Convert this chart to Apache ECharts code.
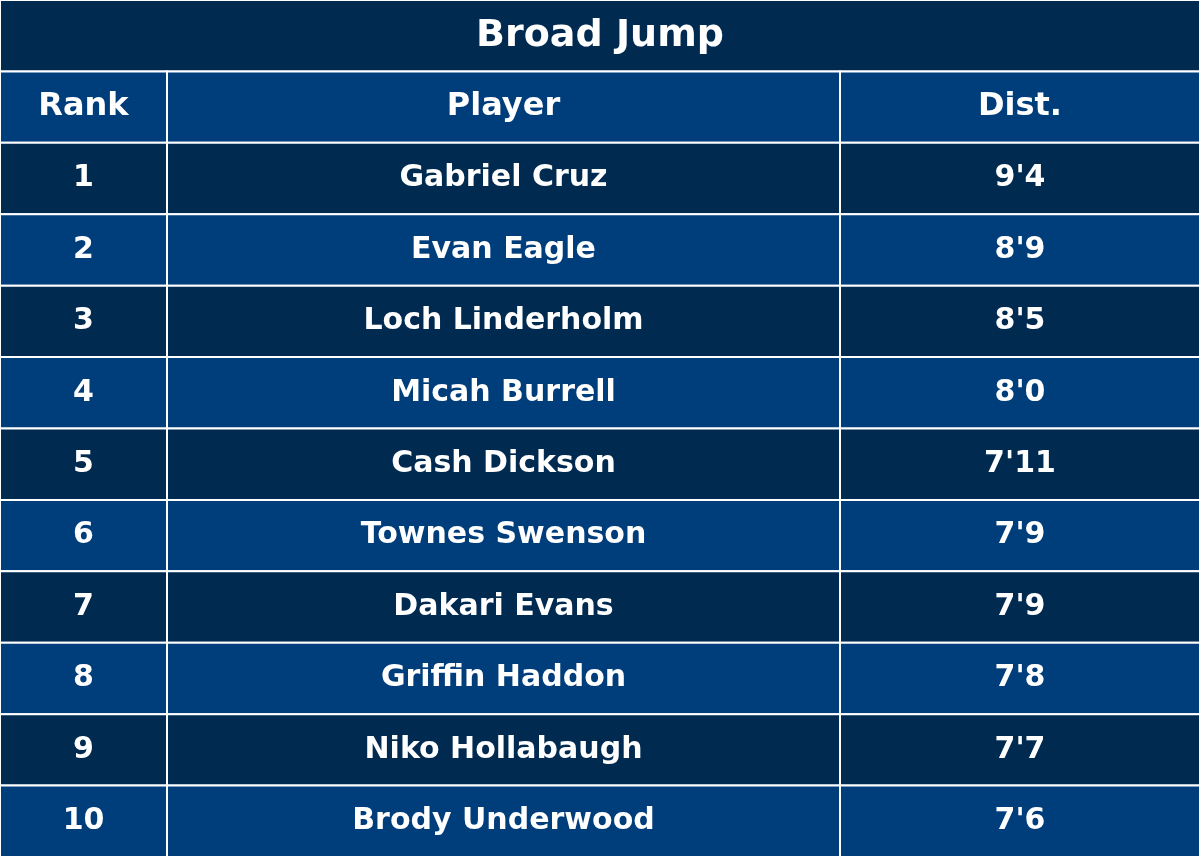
<!DOCTYPE html>
<html>
<head>
<meta charset="utf-8">
<script src="https://cdn.jsdelivr.net/npm/echarts@6/dist/echarts.min.js"></script>
<style>
  html, body { margin: 0; padding: 0; background: #fff; }
  #chart { width: 1200px; height: 857px; }
</style>
</head>
<body>
<div id="chart"></div>
<script>
var title = 'Broad Jump';
var headers = ['Rank', 'Player', 'Dist.'];
var ranks = ['1', '2', '3', '4', '5', '6', '7', '8', '9', '10'];
var players = ['Gabriel Cruz', 'Evan Eagle', 'Loch Linderholm', 'Micah Burrell', 'Cash Dickson',
    'Townes Swenson', 'Dakari Evans', 'Griffin Haddon', 'Niko Hollabaugh', 'Brody Underwood'];
var dists = ["9'4", "8'9", "8'5", "8'0", "7'11", "7'9", "7'9", "7'8", "7'7", "7'6"];

var colEdges = [0, 167, 840, 1200];
var darkColor = '#012a50';
var lightColor = '#003d7b';

// cells: [x0, x1, row, text, fontSize]
var cells = [];
cells.push([0, 1200, 0, title, 38]);
for (var c = 0; c < 3; c++) {
    cells.push([colEdges[c], colEdges[c + 1], 1, headers[c], 32]);
}
for (var i = 0; i < ranks.length; i++) {
    var vals = [ranks[i], players[i], dists[i]];
    for (var c = 0; c < 3; c++) {
        cells.push([colEdges[c], colEdges[c + 1], i + 2, vals[c], 30]);
    }
}

var chart = echarts.init(document.getElementById('chart'));
chart.setOption({
    animation: false,
    backgroundColor: '#ffffff',
    grid: { left: 0, right: 0, top: 0, bottom: 0 },
    xAxis: { type: 'value', min: 0, max: 1200, show: false },
    yAxis: { type: 'value', min: 0, max: 12, inverse: true, show: false },
    series: [{
        type: 'custom',
        data: cells,
        renderItem: function (params, api) {
            var p0 = api.coord([api.value(0), api.value(2)]);
            var p1 = api.coord([api.value(1), api.value(2) + 1]);
            var row = api.value(2);
            var fill = (row % 2 === 0) ? darkColor : lightColor;
            var item = cells[params.dataIndex];
            return {
                type: 'rect',
                shape: { x: p0[0], y: p0[1], width: p1[0] - p0[0], height: p1[1] - p0[1] },
                style: { fill: fill, stroke: '#ffffff', lineWidth: 2 },
                textContent: {
                    style: {
                        text: item[3],
                        fill: '#ffffff',
                        font: 'bold ' + item[4] + 'px "DejaVu Sans"'
                    }
                },
                textConfig: { position: 'inside' }
            };
        }
    }]
});
</script>
</body>
</html>
